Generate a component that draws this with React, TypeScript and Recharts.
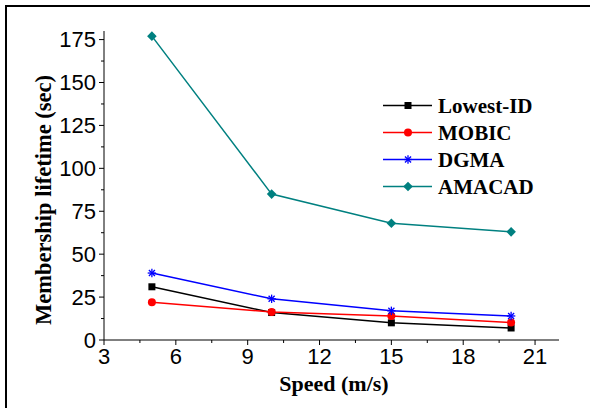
import React from "react"
import { LineChart, Line, XAxis, YAxis, Legend, Label } from "recharts"

// speed (m/s) on x, membership lifetime (sec) on y
const speeds = [5, 10, 15, 20]
const lowestId = [31, 16, 10, 7]
const mobic = [22, 16.3, 14, 10.2]
const dgma = [39, 24, 17, 14]
const amacad = [177, 85, 68, 63]

const xMajor = [3, 6, 9, 12, 15, 18, 21]
const xMinor = [4.5, 7.5, 10.5, 13.5, 16.5, 19.5]
const yMajor = [0, 25, 50, 75, 100, 125, 150, 175]
const yMinor = [12.5, 37.5, 62.5, 87.5, 112.5, 137.5, 162.5]

const seriesNames = ["Lowest-ID", "MOBIC", "DGMA", "AMACAD"]
const seriesKeys = ["lowestId", "mobic", "dgma", "amacad"]
const seriesColors = ["#000000", "#ff0000", "#0000ff", "#008080"]
const seriesMarkers = ["square", "circle", "star", "diamond"]

const data = speeds.map((speed, i) => ({
  speed,
  lowestId: lowestId[i],
  mobic: mobic[i],
  dgma: dgma[i],
  amacad: amacad[i],
}))

const xTicks = [...xMajor, ...xMinor].sort((a, b) => a - b)
const yTicks = [...yMajor, ...yMinor].sort((a, b) => a - b)

const tickFont = "'Liberation Sans', Arial, sans-serif"
const titleFont = "'Liberation Serif', 'Times New Roman', serif"

function Marker({ shape, cx, cy, color }: { shape: string; cx: number; cy: number; color: string }) {
  if (shape === "square") {
    return <rect x={cx - 3.5} y={cy - 3.5} width={7} height={7} fill={color} />
  }
  if (shape === "circle") {
    return <circle cx={cx} cy={cy} r={4} fill={color} />
  }
  if (shape === "diamond") {
    return <polygon points={`${cx},${cy - 4.8} ${cx + 4.8},${cy} ${cx},${cy + 4.8} ${cx - 4.8},${cy}`} fill={color} />
  }
  const r = 4.2
  const d = r * 0.72
  return (
    <g stroke={color} strokeWidth={1.3}>
      <line x1={cx} y1={cy - r} x2={cx} y2={cy + r} />
      <line x1={cx - r} y1={cy} x2={cx + r} y2={cy} />
      <line x1={cx - d} y1={cy - d} x2={cx + d} y2={cy + d} />
      <line x1={cx - d} y1={cy + d} x2={cx + d} y2={cy - d} />
    </g>
  )
}

function BottomTick(props: any) {
  const { x, y, payload } = props
  const major = xMajor.includes(payload.value)
  return (
    <g>
      <line x1={x} x2={x} y1={y} y2={y + (major ? 5 : 3)} stroke="#000" />
      {major && (
        <text x={x} y={y + 24} textAnchor="middle" fontSize={22} fontFamily={tickFont} fill="#000">
          {payload.value}
        </text>
      )}
    </g>
  )
}

function TopTick(props: any) {
  const { x, y, payload } = props
  const major = xMajor.includes(payload.value)
  return <line x1={x} x2={x} y1={y} y2={y + (major ? 3 : 2)} stroke="#000" />
}

function LeftTick(props: any) {
  const { x, y, payload } = props
  const major = yMajor.includes(payload.value)
  return (
    <g>
      <line x1={x - (major ? 5 : 3)} x2={x} y1={y} y2={y} stroke="#000" />
      {major && (
        <text x={x - 8} y={y + 7.8} textAnchor="end" fontSize={22} fontFamily={tickFont} fill="#000">
          {payload.value}
        </text>
      )}
    </g>
  )
}

function RightTick(props: any) {
  const { x, y, payload } = props
  const major = yMajor.includes(payload.value)
  return <line x1={x - (major ? 5 : 3)} x2={x} y1={y} y2={y} stroke="#000" />
}

function LegendBox({ payload }: any) {
  const items = [...(payload || [])].sort(
    (a: any, b: any) => seriesKeys.indexOf(a.dataKey) - seriesKeys.indexOf(b.dataKey)
  )
  return (
    <svg width={190} height={items.length * 27} style={{ display: "block" }}>
      {items.map((item: any, i: number) => {
        const idx = seriesKeys.indexOf(item.dataKey)
        const cy = 13.5 + i * 27
        return (
          <g key={item.dataKey}>
            <line x1={0} x2={49} y1={cy} y2={cy} stroke={item.color} strokeWidth={1.5} />
            <Marker shape={seriesMarkers[idx]} cx={25} cy={cy} color={item.color} />
            <text x={55} y={cy + 7} fontSize={21} fontWeight="bold" fontFamily={titleFont} fill="#000">
              {item.value}
            </text>
          </g>
        )
      })}
    </svg>
  )
}

export default function App() {
  return (
    <div style={{ position: "absolute", left: 0, top: 0, width: 590, height: 408, overflow: "hidden", background: "#fff" }}>
      <div
        style={{
          position: "absolute",
          left: 5,
          top: 5,
          width: 620,
          height: 440,
          borderTop: "2px solid #000",
          borderLeft: "2px solid #000",
        }}
      />
      <LineChart width={590} height={408} data={data} margin={{ top: 31, right: 31, bottom: 0, left: 0 }}>
        <XAxis
          xAxisId="x"
          dataKey="speed"
          type="number"
          domain={[3, 22]}
          allowDataOverflow
          ticks={xTicks}
          interval={0}
          height={68}
          tickSize={0}
          tickMargin={0}
          tick={<BottomTick />}
          axisLine={{ stroke: "#000" }}
        >
          <Label
            content={({ viewBox }: any) => (
              <text
                x={viewBox.x + viewBox.width / 2 + 2.5}
                y={viewBox.y + 51}
                textAnchor="middle"
                fontSize={22}
                fontWeight="bold"
                fontFamily={titleFont}
                fill="#000"
              >
                Speed (m/s)
              </text>
            )}
          />
        </XAxis>
        <XAxis
          xAxisId="top"
          orientation="top"
          type="number"
          domain={[3, 22]}
          allowDataOverflow
          ticks={xTicks}
          interval={0}
          height={0}
          tickSize={0}
          tickMargin={0}
          tick={<TopTick />}
          axisLine={{ stroke: "#000" }}
        />
        <YAxis
          yAxisId="y"
          type="number"
          domain={[0, 180]}
          allowDataOverflow
          ticks={yTicks}
          interval={0}
          width={104}
          tickSize={0}
          tickMargin={0}
          tick={<LeftTick />}
          axisLine={{ stroke: "#000" }}
        >
          <Label
            content={({ viewBox }: any) => {
              const cx = viewBox.x + 43.5
              const cy = viewBox.y + viewBox.height / 2 + 14.5
              return (
                <text
                  x={cx}
                  y={cy}
                  transform={`rotate(-90 ${cx} ${cy})`}
                  textAnchor="middle"
                  dy="0.33em"
                  fontSize={22.5}
                  fontWeight="bold"
                  fontFamily={titleFont}
                  fill="#000"
                >
                  Membership lifetime (sec)
                </text>
              )
            }}
          />
        </YAxis>
        <YAxis
          yAxisId="right"
          orientation="right"
          type="number"
          domain={[0, 180]}
          allowDataOverflow
          ticks={yTicks}
          interval={0}
          width={0}
          tickSize={0}
          tickMargin={0}
          tick={<RightTick />}
          axisLine={{ stroke: "#000" }}
        />
        <Legend
          layout="vertical"
          align="center"
          verticalAlign="middle"
          content={<LegendBox />}
          wrapperStyle={{ left: 383, top: 91.5, width: 190, height: 108 }}
        />
        {seriesKeys.map((key, i) => (
          <Line
            key={key}
            xAxisId="x"
            yAxisId="y"
            type="linear"
            dataKey={key}
            name={seriesNames[i]}
            stroke={seriesColors[i]}
            strokeWidth={1.5}
            isAnimationActive={false}
            dot={(p: any) => (
              <Marker key={`${key}-${p.index}`} shape={seriesMarkers[i]} cx={p.cx} cy={p.cy} color={seriesColors[i]} />
            )}
            activeDot={false}
          />
        ))}
      </LineChart>
    </div>
  )
}
